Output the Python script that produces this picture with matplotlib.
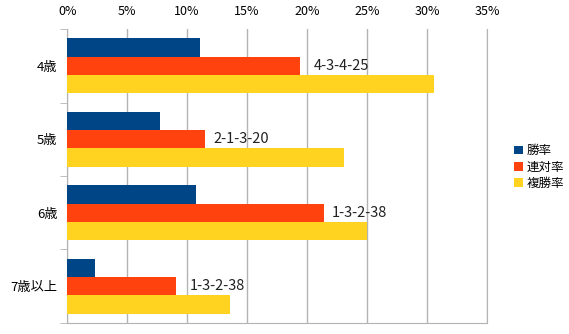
import matplotlib
matplotlib.use("Agg")
import matplotlib.pyplot as plt
import numpy as np
from matplotlib.ticker import FuncFormatter, FixedLocator

plt.rcParams['font.family'] = ['Noto Sans CJK JP', 'DejaVu Sans']

# data
ages = ["4歳", "5歳", "6歳", "7歳以上"]
win_rate = [11.1, 7.7, 10.7, 2.3]      # 勝率
rentai_rate = [19.4, 11.5, 21.4, 9.1]  # 連対率
fukusho_rate = [30.6, 23.1, 25.0, 13.6]  # 複勝率
records = ["4-3-4-25", "2-1-3-20", "1-3-2-38", "1-3-2-38"]
series_names = ["勝率", "連対率", "複勝率"]
colors = ["#004586", "#ff420e", "#ffd320"]

fig = plt.figure(figsize=(5.69, 3.34), dpi=100)
ax = fig.add_axes([0.118, 0.033, 0.738, 0.880])

y = np.arange(len(ages))
h = 0.25
for k, vals in enumerate([win_rate, rentai_rate, fukusho_rate]):
    ax.barh(y + (k - 1) * h, vals, height=h, color=colors[k],
            label=series_names[k], zorder=3)

# record labels to the right of the 連対率 bar
label_offsets = [10, 6, 6, 10]
for i, txt in enumerate(records):
    ax.annotate(txt, xy=(rentai_rate[i], y[i]), xytext=(label_offsets[i], 0),
                textcoords="offset points", va="center", ha="left",
                fontsize=10.5, color="#222222", zorder=4)

ax.set_xlim(0, 35)
ax.set_ylim(len(ages) - 0.5, -0.5)
ax.set_xticks(np.arange(0, 36, 5))
ax.xaxis.set_major_formatter(FuncFormatter(lambda v, p: f"{v:.0f}%"))
ax.xaxis.tick_top()
ax.tick_params(axis="x", length=0, pad=8, labelsize=9)
ax.grid(axis="x", color="#b3b3b3", lw=1, zorder=0)

ax.set_yticks(y)
ax.set_yticklabels(ages, fontsize=9.5)
ax.yaxis.set_minor_locator(FixedLocator(np.arange(-0.5, len(ages), 1)))
ax.tick_params(axis="y", which="major", length=0, pad=7)
ax.tick_params(axis="y", which="minor", length=5, color="#b3b3b3")

for s in ["left", "bottom", "right"]:
    ax.spines[s].set_color("#b3b3b3")
ax.spines["top"].set_visible(False)

fig.legend(loc="center left", bbox_to_anchor=(0.895, 0.5), frameon=False,
           fontsize=9, handlelength=0.7, handleheight=0.7, handletextpad=0.3,
           labelspacing=0.25, borderaxespad=0)

plt.savefig("out.png", dpi=100)
